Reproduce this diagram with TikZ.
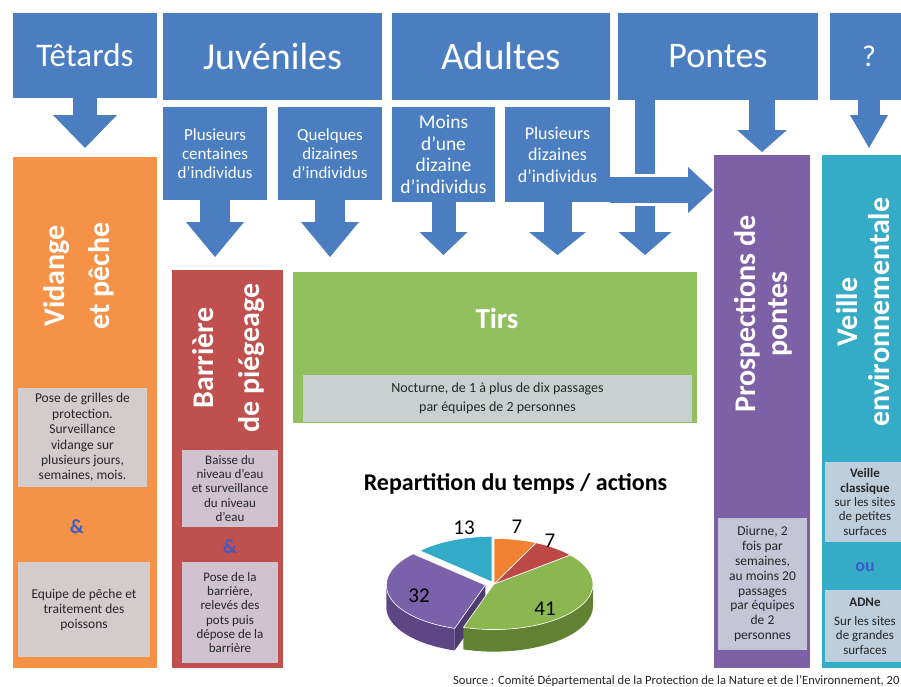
\documentclass[tikz,border=0pt]{standalone}
\usepackage{fontspec}
\setmainfont{Carlito}
\usetikzlibrary{arrows.meta,calc}

\definecolor{boxblue}{RGB}{74,126,193}
\definecolor{colorange}{RGB}{246,146,72}
\definecolor{colred}{RGB}{192,80,77}
\definecolor{colgreen}{RGB}{146,192,94}
\definecolor{colpurple}{RGB}{125,96,166}
\definecolor{colteal}{RGB}{52,172,200}
\definecolor{notegrey}{RGB}{208,212,224}
\definecolor{ampblue}{RGB}{62,92,200}
\definecolor{pieorange}{RGB}{240,130,50}
\definecolor{piered}{RGB}{190,72,70}
\definecolor{piegreen}{RGB}{140,182,80}
\definecolor{greenside}{RGB}{96,130,50}
\definecolor{piepurple}{RGB}{122,98,170}
\definecolor{purpleside}{RGB}{92,70,132}
\definecolor{pieteal}{RGB}{50,170,200}

\tikzset{
    blk/.style={inner sep=0pt, outer sep=0pt, align=center},
    hdr/.style={blk, fill=boxblue, text=white},
    col/.style={blk, fill=#1},
    note/.style={blk, fill=notegrey, fill opacity=0.88, text opacity=1, text=black!85},
    coltitle/.style={blk, rotate=90, text=white, font=\bfseries\fontsize{30}{#1}\selectfont},
    amp/.style={blk, text=ampblue, font=\bfseries\fontsize{20}{22}\selectfont},
    blkarr/.style n args={3}{draw=boxblue, line width=#1, -{Triangle[length=#2, width=#3, line width=0pt]}},
    pietop/.style={fill=#1, draw=white, line width=0.6pt},
    pielab/.style={anchor=base, font=\fontsize{21}{23}\selectfont}
}

\begin{document}
\begin{tikzpicture}[x=1pt, y=-1pt]
    \useasboundingbox (0,0) rectangle (901,686);

    % stades
    \node[hdr, minimum width=144pt, minimum height=85pt, font=\fontsize{33}{36}\selectfont] (tet) at (85,55.5) {Têtards};
    \node[hdr, minimum width=219pt, minimum height=87pt, font=\fontsize{38}{40}\selectfont] (juv) at (272.5,56.5) {Juvéniles};
        \node[hdr, minimum width=104pt, minimum height=93pt, font=\fontsize{17}{19}\selectfont] (juvA) at (215,153.5) {Plusieurs\\centaines\\d’individus};
        \node[hdr, minimum width=104pt, minimum height=93pt, font=\fontsize{17}{19}\selectfont] (juvB) at (330,153.5) {Quelques\\dizaines\\d’individus};
    \node[hdr, minimum width=218pt, minimum height=87pt, font=\fontsize{39}{42}\selectfont] (adu) at (501,56.5) {Adultes};
        \node[hdr, minimum width=103pt, minimum height=95pt, font=\fontsize{19.5}{21.5}\selectfont] (aduA) at (443.5,154.5) {Moins\\d’une\\dizaine\\d’individus};
        \node[hdr, minimum width=105pt, minimum height=95pt, font=\fontsize{18}{21.5}\selectfont] (aduB) at (557.5,154.5) {Plusieurs\\dizaines\\d’individus};
    \node[hdr, minimum width=200pt, minimum height=87pt, font=\fontsize{36}{40}\selectfont] (pon) at (718,56.5) {Pontes};
    \node[hdr, minimum width=78pt, minimum height=87pt, font=\fontsize{30}{34}\selectfont] (que) at (869,56.5) {?};

    % actions
    \node[col=colorange, minimum width=144pt, minimum height=511pt] (vid) at (85,412.5) {};
        \node[coltitle=45] (vidT) at (79,276) {Vidange\\et pêche};
        \node[note, minimum width=129pt, minimum height=99pt, font=\fontsize{13.5}{15.4}\selectfont] (vidA) at (82.5,437.5) {Pose de grilles de\\protection.\\Surveillance\\vidange sur\\plusieurs jours,\\semaines, mois.};
        \node[amp] (vidAmp) at (77,527) {\&};
        \node[note, minimum width=132pt, minimum height=95pt, font=\fontsize{13.5}{15}\selectfont] (vidB) at (84,609.5) {Equipe de pêche et\\traitement des\\poissons};
    \node[col=colred, minimum width=111pt, minimum height=398pt] (bar) at (227.5,469) {};
        \node[coltitle=46] (barT) at (229,358) {Barrière\\de piégeage};
        \node[note, minimum width=96pt, minimum height=77pt, font=\fontsize{13}{14.2}\selectfont] (barA) at (230,488.5) {Baisse du\\niveau d’eau\\et surveillance\\du niveau\\d’eau};
        \node[amp] (barAmp) at (230,547) {\&};
        \node[note, minimum width=96pt, minimum height=101pt, font=\fontsize{13}{14.2}\selectfont] (barB) at (230,612.5) {Pose de la\\barrière,\\relevés des\\pots  puis\\dépose de la\\barrière};
    \node[col=colgreen, minimum width=404pt, minimum height=151pt] (tir) at (495,347.5) {};
        \node[blk, text=white, font=\bfseries\fontsize{29}{32}\selectfont] (tirT) at (497,318) {Tirs};
        \node[note, minimum width=389pt, minimum height=47pt, font=\fontsize{14}{19}\selectfont] (tirA) at (497.5,398.5) {Nocturne, de 1 à  plus de dix passages\\par équipes  de 2 personnes};
    \node[col=colpurple, minimum width=96pt, minimum height=513pt] (pro) at (762,411.5) {};
        \node[coltitle=32] (proT) at (763,314) {Prospections de\\pontes};
        \node[note, minimum width=89pt, minimum height=132pt, font=\fontsize{13.5}{14.9}\selectfont] (proA) at (762.5,584) {Diurne, 2\\fois par\\semaines,\\au moins 20\\passages\\par équipes\\de 2\\personnes};
    \node[col=colteal, minimum width=88pt, minimum height=513pt] (vei) at (866,411.5) {};
        \node[coltitle=32] (veiT) at (863,312) {Veille\\environnementale};
        \node[note, minimum width=80pt, minimum height=80pt, font=\fontsize{13}{14.3}\selectfont] (veiA) at (865,502) {\textbf{Veille}\\\textbf{classique}\\sur les sites\\de petites\\surfaces};
        \node[amp, font=\bfseries\fontsize{18}{20}\selectfont] (veiOu) at (865,567) {ou};
        \node[note, minimum width=80pt, minimum height=72pt, font=\fontsize{13}{14.3}\selectfont] (veiB) at (865,626) {\textbf{ADNe}\\[5pt]Sur les sites\\de grandes\\surfaces};

    % fleches
    \draw[blkarr={24pt}{33pt}{64pt}] (tet.south) -- ([yshift=9pt]vid.north);
    \draw[blkarr={30pt}{35pt}{58pt}, shorten >=13pt] (juvA.south) -- (juvA.south |- bar.north);
    \draw[blkarr={30pt}{35pt}{58pt}, shorten >=15pt] (juvB.south) -- (juvB.south |- tir.north);
    \draw[blkarr={24pt}{23pt}{48pt}, shorten >=17pt] (aduA.south) -- (aduA.south |- tir.north);
    \draw[blkarr={28pt}{23pt}{57pt}, shorten >=17pt] (aduB.south) -- (aduB.south |- tir.north);
    \coordinate (ponV) at ($(pon.south west)+(27,0)$);
    \draw[blkarr={20pt}{23pt}{53pt}, shorten >=17pt] (ponV) -- (ponV |- tir.north);
    \coordinate (aduH) at ($(aduB.east)+(0,35.5)$);
    \draw[blkarr={26pt}{25pt}{46pt}, shorten >=1pt, preaction={draw=white, line width=32pt, arrows=-}] (aduH) -- (aduH -| pro.west);
    \draw[blkarr={26pt}{22pt}{50pt}, shorten >=3pt] (pon.south -| pro.north) -- (pro.north);
    \draw[blkarr={22pt}{33pt}{38pt}, shorten >=7pt] (que.south) -- (que.south |- vei.north);

    % camembert
    \node[blk, anchor=base, font=\bfseries\fontsize{24}{26}\selectfont] (pieT) at (515.5,490) {Repartition du temps / actions};
    \begin{scope}[shift={(494,584)}, x=1pt, y=0.46pt]
        \begin{scope}[shift={(194.4:9)}]
            \fill[purpleside] (180:99) arc[start angle=180, end angle=252, radius=99] -- ++(0,-48) arc[start angle=252, end angle=180, radius=99] -- cycle;
            \fill[purpleside!85!black] (0,0) -- (252:99) -- ++(0,-48) -- (0,-48) -- cycle;
            \filldraw[pietop=piepurple] (0,0) -- (136.8:99) arc[start angle=136.8, end angle=252, radius=99] -- cycle;
        \end{scope}
        \fill[greenside] (0:99) arc[start angle=0, end angle=-108, radius=99] -- ++(0,-48) arc[start angle=-108, end angle=0, radius=99] -- cycle;
        \filldraw[pietop=piegreen] (0,0) -- (39.6:99) arc[start angle=39.6, end angle=-108, radius=99] -- cycle;
        \filldraw[pietop=piered] (0,0) -- (64.8:99) arc[start angle=64.8, end angle=39.6, radius=99] -- cycle;
        \filldraw[pietop=pieorange] (0,0) -- (90:99) arc[start angle=90, end angle=64.8, radius=99] -- cycle;
        \begin{scope}[shift={(113.4:5)}]
            \filldraw[pietop=pieteal] (0,0) -- (136.8:99) arc[start angle=136.8, end angle=90, radius=99] -- cycle;
        \end{scope}
    \end{scope}
    \node[pielab] (lab13) at (464,534) {13};
    \node[pielab] (labOr) at (517,533) {7};
    \node[pielab] (labRe) at (550,547) {7};
    \node[pielab] (lab32) at (419,602) {32};
    \node[pielab] (lab41) at (545,615) {41};

    \node[anchor=base west, inner sep=0pt, text=black!85, font=\fontsize{12.6}{14}\selectfont] (src) at (453,684) {Source : Comité Départemental de la Protection de la Nature et de l’Environnement, 20};
\end{tikzpicture}
\end{document}
